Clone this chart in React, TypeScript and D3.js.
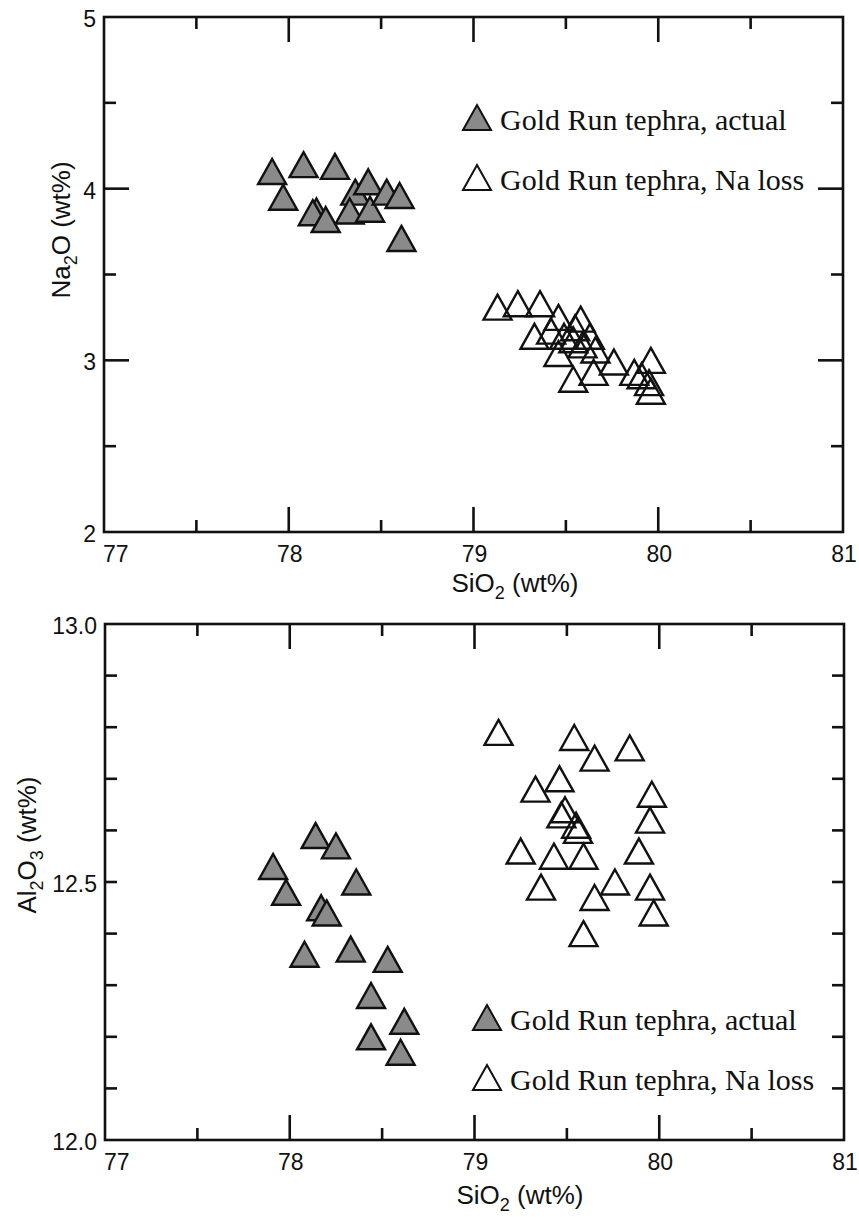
import React from "react";
import * as d3 from "d3";

// SiO2 vs Na2O — Gold Run tephra (actual analyses)
const naActualSiO2 = [77.91, 78.08, 78.25, 77.97, 78.15, 78.13, 78.2, 78.36, 78.43, 78.33, 78.44, 78.53, 78.6, 78.61];
const naActualNa2O = [4.1, 4.14, 4.13, 3.95, 3.87, 3.86, 3.82, 3.98, 4.04, 3.87, 3.88, 3.98, 3.96, 3.71];

// SiO2 vs Na2O — Gold Run tephra (Na loss)
const naLossSiO2 = [79.13, 79.24, 79.36, 79.33, 79.46, 79.58, 79.55, 79.63, 79.49, 79.54, 79.42, 79.59, 79.46, 79.54, 79.65, 79.66, 79.76, 79.87, 79.96, 79.91, 79.95, 79.96];
const naLossNa2O = [3.31, 3.33, 3.33, 3.14, 3.25, 3.24, 3.19, 3.14, 3.14, 3.12, 3.17, 3.09, 3.04, 2.89, 2.93, 3.06, 2.99, 2.93, 3.0, 2.91, 2.87, 2.82];

// SiO2 vs Al2O3 — Gold Run tephra (actual analyses)
const alActualSiO2 = [78.14, 78.25, 77.91, 78.36, 77.98, 78.17, 78.2, 78.08, 78.33, 78.53, 78.44, 78.62, 78.44, 78.6];
const alActualAl2O3 = [12.59, 12.57, 12.53, 12.5, 12.48, 12.45, 12.44, 12.36, 12.37, 12.35, 12.28, 12.23, 12.2, 12.17];

// SiO2 vs Al2O3 — Gold Run tephra (Na loss)
const alLossSiO2 = [79.13, 79.54, 79.84, 79.65, 79.46, 79.33, 79.96, 79.49, 79.47, 79.95, 79.55, 79.56, 79.25, 79.43, 79.59, 79.89, 79.36, 79.76, 79.65, 79.95, 79.97, 79.59];
const alLossAl2O3 = [12.79, 12.78, 12.76, 12.74, 12.7, 12.68, 12.67, 12.64, 12.63, 12.62, 12.61, 12.6, 12.56, 12.55, 12.55, 12.56, 12.49, 12.5, 12.47, 12.49, 12.44, 12.4];

// Axis tick values and labels
const sio2TickLabels = ["77", "78", "79", "80", "81"];
const sio2MinorTicks = [77.5, 78.5, 79.5, 80.5];
const na2oTickLabels = ["2", "3", "4", "5"];
const na2oMinorTicks = [2.5, 3.5, 4.5];
const al2o3TickLabels = ["12.0", "12.5", "13.0"];
const al2o3MinorTicks = [12.1, 12.2, 12.3, 12.4, 12.6, 12.7, 12.8, 12.9];

const legendLabels = ["Gold Run tephra, actual", "Gold Run tephra, Na loss"];

const SANS = "'Liberation Sans', Arial, Helvetica, sans-serif";
const SERIF = "'Liberation Serif', 'Times New Roman', serif";
const INK = "#111";
const GREY = "#8a8a8a";

// upward triangle, 28 wide and 25 tall, centred on its bounding box
const TRI = "M0,-12.5L14,12.5L-14,12.5Z";

type PanelProps = {
  left: number;
  top: number;
  right: number;
  bottom: number;
  yDomain: [number, number];
  yLabels: string[];
  yMinor: number[];
  yMajorLen: number;
  actualX: number[];
  actualY: number[];
  lossX: number[];
  lossY: number[];
  yTitle: React.ReactNode;
  yTitlePos: [number, number];
  xTitleCenter: number;
  xTitleGap: number;
  legendX: number;
  legendBaseline: number;
};

function Panel(p: PanelProps) {
  const x = d3.scaleLinear().domain([77, 81]).range([p.left, p.right]);
  const y = d3.scaleLinear().domain(p.yDomain).range([p.bottom, p.top]);
  const sw = 2.6;

  const xMajor = sio2TickLabels.map(Number).filter((v) => v > 77 && v < 81);
  const yMajorVals = p.yLabels.map(Number).filter((v) => v > p.yDomain[0] && v < p.yDomain[1]);

  return (
    <g>
      {/* frame */}
      <rect
        x={p.left}
        y={p.top}
        width={p.right - p.left}
        height={p.bottom - p.top}
        fill="none"
        stroke={INK}
        strokeWidth={sw}
      />
      {/* x ticks, bottom and top */}
      {xMajor.map((v) => (
        <g key={"xM" + v}>
          <line x1={x(v)} x2={x(v)} y1={p.bottom} y2={p.bottom - 25} stroke={INK} strokeWidth={sw} />
          <line x1={x(v)} x2={x(v)} y1={p.top} y2={p.top + 25} stroke={INK} strokeWidth={sw} />
        </g>
      ))}
      {sio2MinorTicks.map((v) => (
        <g key={"xm" + v}>
          <line x1={x(v)} x2={x(v)} y1={p.bottom} y2={p.bottom - 12} stroke={INK} strokeWidth={sw} />
          <line x1={x(v)} x2={x(v)} y1={p.top} y2={p.top + 12} stroke={INK} strokeWidth={sw} />
        </g>
      ))}
      {/* y ticks, left and right */}
      {yMajorVals.map((v) => (
        <g key={"yM" + v}>
          <line x1={p.left} x2={p.left + p.yMajorLen} y1={y(v)} y2={y(v)} stroke={INK} strokeWidth={sw} />
          <line x1={p.right} x2={p.right - p.yMajorLen} y1={y(v)} y2={y(v)} stroke={INK} strokeWidth={sw} />
        </g>
      ))}
      {p.yMinor.map((v) => (
        <g key={"ym" + v}>
          <line x1={p.left} x2={p.left + 12} y1={y(v)} y2={y(v)} stroke={INK} strokeWidth={sw} />
          <line x1={p.right} x2={p.right - 12} y1={y(v)} y2={y(v)} stroke={INK} strokeWidth={sw} />
        </g>
      ))}
      {/* x tick labels */}
      {sio2TickLabels.map((t, i) => (
        <text
          key={"xl" + t}
          x={i === 0 ? x(+t) - 1 : x(+t) + 1}
          y={p.bottom + 30}
          textAnchor={i === 0 ? "start" : "middle"}
          fontFamily={SANS}
          fontSize={23}
          fill={INK}
        >
          {t}
        </text>
      ))}
      {/* y tick labels */}
      {p.yLabels.map((t) => (
        <text
          key={"yl" + t}
          x={p.left - 8}
          y={y(+t) + 10}
          textAnchor="end"
          fontFamily={SANS}
          fontSize={23}
          fill={INK}
        >
          {t}
        </text>
      ))}
      {/* axis titles */}
      <text
        x={p.xTitleCenter}
        y={p.bottom + p.xTitleGap}
        textAnchor="middle"
        fontFamily={SANS}
        fontSize={26}
        fill={INK}
      >
        SiO<tspan dy={7} fontSize={18}>2</tspan>
        <tspan dy={-7}> (wt%)</tspan>
      </text>
      <text
        transform={`translate(${p.yTitlePos[0]},${p.yTitlePos[1]}) rotate(-90)`}
        textAnchor="middle"
        fontFamily={SANS}
        fontSize={26}
        fill={INK}
      >
        {p.yTitle}
      </text>
      {/* Na-loss analyses: open triangles */}
      {p.lossX.map((v, i) => (
        <path
          key={"loss" + i}
          d={TRI}
          transform={`translate(${x(v)},${y(p.lossY[i])})`}
          fill="none"
          stroke={INK}
          strokeWidth={2.4}
          strokeLinejoin="miter"
        />
      ))}
      {/* actual analyses: grey filled triangles */}
      {p.actualX.map((v, i) => (
        <path
          key={"act" + i}
          d={TRI}
          transform={`translate(${x(v)},${y(p.actualY[i])})`}
          fill={GREY}
          stroke={INK}
          strokeWidth={2.4}
        />
      ))}
      {/* legend */}
      {legendLabels.map((label, i) => {
        const base = p.legendBaseline + i * 60;
        return (
          <g key={"leg" + i}>
            <path
              d={TRI}
              transform={`translate(${p.legendX - 23},${base - 12.5})`}
              fill={i === 0 ? GREY : "none"}
              stroke={INK}
              strokeWidth={2}
            />
            <text x={p.legendX} y={base} fontFamily={SERIF} fontSize={30} fill={INK}>
              {label}
            </text>
          </g>
        );
      })}
    </g>
  );
}

export default function App() {
  return (
    <svg
      width={859}
      height={1217}
      viewBox="0 0 859 1217"
      style={{ position: "absolute", left: 0, top: 0, background: "#fff", display: "block" }}
    >
      <rect width={859} height={1217} fill="#fff" />
      <Panel
        left={104}
        top={17}
        right={843}
        bottom={532}
        yDomain={[2, 5]}
        yLabels={na2oTickLabels}
        yMinor={na2oMinorTicks}
        yMajorLen={25}
        actualX={naActualSiO2}
        actualY={naActualNa2O}
        lossX={naLossSiO2}
        lossY={naLossNa2O}
        yTitle={
          <>
            Na<tspan dy={7} fontSize={18}>2</tspan>
            <tspan dy={-7}>O (wt%)</tspan>
          </>
        }
        yTitlePos={[70, 230]}
        xTitleCenter={515}
        xTitleGap={60}
        legendX={500}
        legendBaseline={130}
      />
      <Panel
        left={105}
        top={624}
        right={844}
        bottom={1140}
        yDomain={[12, 13]}
        yLabels={al2o3TickLabels}
        yMinor={al2o3MinorTicks}
        yMajorLen={12}
        actualX={alActualSiO2}
        actualY={alActualAl2O3}
        lossX={alLossSiO2}
        lossY={alLossAl2O3}
        yTitle={
          <>
            Al<tspan dy={7} fontSize={18}>2</tspan>
            <tspan dy={-7}>O</tspan>
            <tspan dy={7} fontSize={18}>3</tspan>
            <tspan dy={-7}> (wt%)</tspan>
          </>
        }
        yTitlePos={[36, 845]}
        xTitleCenter={520}
        xTitleGap={64}
        legendX={510}
        legendBaseline={1030}
      />
    </svg>
  );
}
